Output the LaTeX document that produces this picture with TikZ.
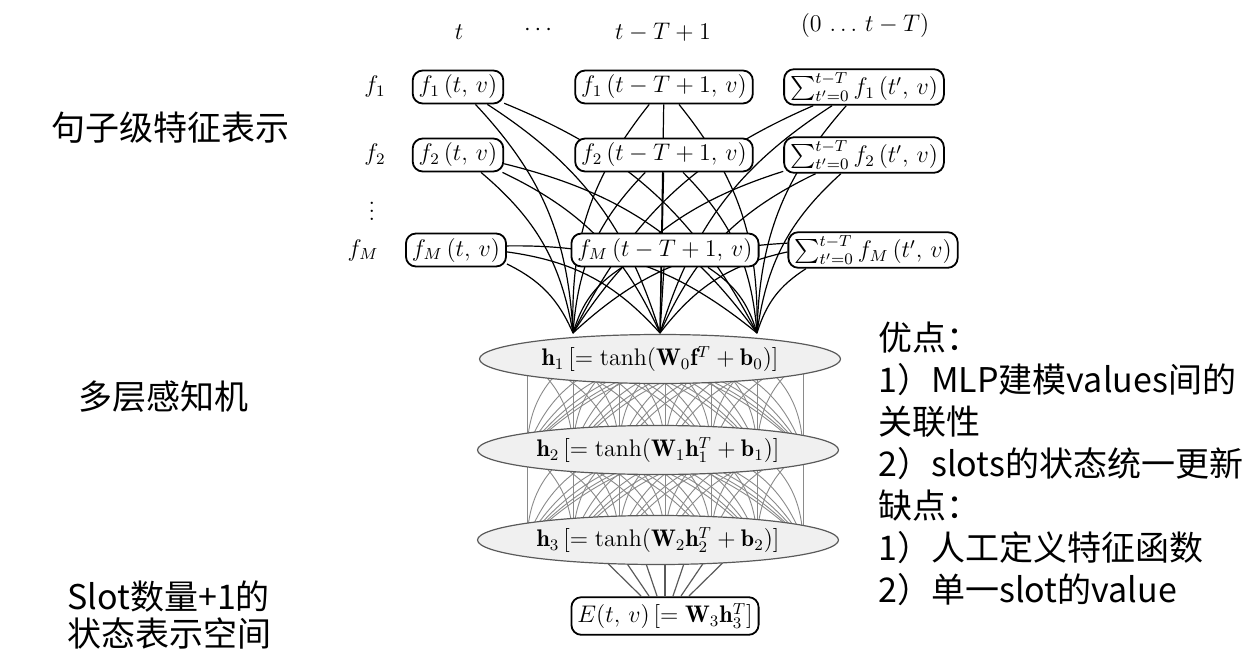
\documentclass[tikz,border=0pt]{standalone}
\usepackage{fontspec}
\usepackage{amsmath}
\usepackage{tikz}
\usetikzlibrary{backgrounds,shapes.geometric}
\newfontfamily\cjk{Noto Sans CJK SC}
\definecolor{LayerFill}{HTML}{F0F0F0}
\definecolor{LayerEdge}{HTML}{5A5A5A}
\definecolor{LinkGray}{HTML}{8A8A8A}

\begin{document}
\begin{tikzpicture}[x=0.5pt,y=-0.5pt, every node/.style={font=\large},
  feat/.style={draw, line width=0.9pt, rounded corners=5pt, fill=white, inner xsep=3pt, inner ysep=1.5pt, minimum height=16.5pt},
  layer/.style={ellipse, draw=LayerEdge, line width=0.6pt, fill=LayerFill, inner sep=0pt, minimum width=180.5pt, minimum height=24.5pt},
  cn/.style={font=\cjk\fontsize{17}{21}\selectfont},
  feedline/.style={line width=0.6pt},
  hidline/.style={line width=0.45pt, LinkGray}]
  \useasboundingbox (0,0) rectangle (1252,658);

  % column heads and row labels
  \node (hd1) at (459,32) {$t$};
  \node (hd2) at (540,30) {$\cdots$};
  \node (hd3) at (663,32) {$t-T+1$};
  \node (hd4) at (865,26) {$(0\,\ldots\,t-T)$};
  \node (lab1) at (375,87) {$f_1$};
  \node (lab2) at (375,155) {$f_2$};
  \node (lab3) at (372,205) {$\vdots$};
  \node (lab4) at (363,250) {$f_M$};

  % feature boxes
  \node[feat] (f11) at (458,87) {$f_1\,(t,\,v)$};
  \node[feat] (f12) at (664,87) {$f_1\,(t-T+1,\,v)$};
  \node[feat] (f13) at (864,87) {$\sum_{t'=0}^{t-T} f_1\,(t',\,v)$};
  \node[feat] (f21) at (458,155) {$f_2\,(t,\,v)$};
  \node[feat] (f22) at (664,155) {$f_2\,(t-T+1,\,v)$};
  \node[feat] (f23) at (864,155) {$\sum_{t'=0}^{t-T} f_2\,(t',\,v)$};
  \node[feat] (f31) at (456,250) {$f_M\,(t,\,v)$};
  \node[feat] (f32) at (665,250) {$f_M\,(t-T+1,\,v)$};
  \node[feat] (f33) at (873,250) {$\sum_{t'=0}^{t-T} f_M\,(t',\,v)$};

  % hidden layers and output
  \node[layer] (h1) at (660,359) {$\mathbf{h}_1\,[=\tanh(\mathbf{W}_0\mathbf{f}^T+\mathbf{b}_0)]$};
  \node[layer] (h2) at (658,450) {$\mathbf{h}_2\,[=\tanh(\mathbf{W}_1\mathbf{h}_1^T+\mathbf{b}_1)]$};
  \node[layer] (h3) at (658,540) {$\mathbf{h}_3\,[=\tanh(\mathbf{W}_2\mathbf{h}_2^T+\mathbf{b}_2)]$};
  \node[feat, inner ysep=3pt] (out) at (665,616) {$E(t,\,v)\,[=\mathbf{W}_3\mathbf{h}_3^T]$};

  \coordinate (p1) at (573,333);
  \coordinate (p2) at (660,333);
  \coordinate (p3) at (757,333);
  \foreach \i in {1,...,7} {
    \coordinate (a\i) at (527+46*\i-46,359);
    \coordinate (b\i) at (527+46*\i-46,450);
    \coordinate (c\i) at (527+46*\i-46,540);
    \coordinate (d\i) at (665+27*\i-108,540);
    \coordinate (e\i) at (665+8*\i-32,596);
  }

  \begin{scope}[on background layer]
    \foreach \r in {1,2,3} {
      \foreach \k in {1,2,3} {
        \draw[feedline] (f\r1) to[bend left=20] (p\k);
        \draw[feedline] (f\r3) to[bend right=20] (p\k);
      }
      \draw[feedline] (f\r2) to[bend right=20] (p1);
      \draw[feedline] (f\r2) -- (p2);
      \draw[feedline] (f\r2) to[bend left=20] (p3);
    }
    \foreach \i in {1,...,7} {
      \foreach \j in {1,...,7} {
        \ifnum\j>\i
          \draw[hidline] (a\i) to[bend left=25] (b\j);
          \draw[hidline] (b\i) to[bend left=25] (c\j);
        \else\ifnum\j<\i
          \draw[hidline] (a\i) to[bend right=25] (b\j);
          \draw[hidline] (b\i) to[bend right=25] (c\j);
        \else
          \draw[hidline] (a\i) -- (b\j);
          \draw[hidline] (b\i) -- (c\j);
        \fi\fi
      }
      \draw[feedline, LayerEdge] (d\i) -- (e\i);
    }
  \end{scope}

  % side notes
  \node[cn] (sent) at (170,128) {句子级特征表示};
  \node[cn] (mlp) at (163,397) {多层感知机};
  \node[cn, font=\cjk\fontsize{17}{18.5}\selectfont, anchor=west, align=left, inner sep=0pt] (slot) at (67,615) {Slot数量+1的\\状态表示空间};
  \node[cn, anchor=north west, align=left, inner sep=0pt] (pros) at (878,322) {优点：\\1）MLP建模values间的\\关联性\\2）slots的状态统一更新\\缺点：\\1）人工定义特征函数\\2）单一slot的value};
\end{tikzpicture}
\end{document}
